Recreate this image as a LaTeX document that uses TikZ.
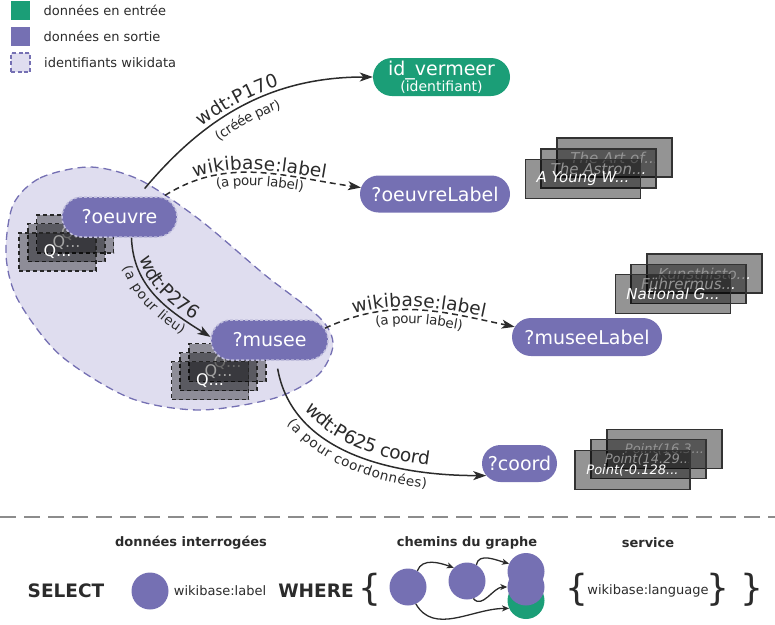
\documentclass[tikz,border=0pt]{standalone}
\usepackage{fontspec}
\setmainfont{DejaVu Sans}
\usetikzlibrary{positioning,arrows.meta,calc,shapes.misc,decorations.text}
\definecolor{entree}{HTML}{1B9E77}
\definecolor{sortie}{HTML}{7570B3}
\definecolor{wikiid}{HTML}{DFDDEF}
\definecolor{encre}{HTML}{2B2B2B}
\tikzset{
    x=1pt,
    y=1pt,
    >={Stealth[length=13pt,width=9pt,inset=3.5pt]},
    var/.style = {
        shape=rounded rectangle,
        fill=sortie,
        text=white,
        font=\fontsize{19}{21}\selectfont,
        minimum height=38pt,
        inner sep=0pt
    },
    idvar/.style = {
        var,
        draw=sortie!45!white,
        dash pattern=on 3pt off 2pt,
        line width=1.5pt,
        minimum height=40pt
    },
    qbox/.style = {
        draw=black!85,
        dash pattern=on 4pt off 3pt,
        line width=1.3pt,
        fill=black,
        fill opacity=0.36,
        text opacity=1,
        text=white,
        minimum width=77pt,
        minimum height=38pt,
        font=\fontsize{16}{16}\selectfont
    },
    valbox/.style = {
        draw=black!80,
        line width=1.3pt,
        fill=black,
        fill opacity=0.42,
        text opacity=1,
        text=white,
        minimum width=115pt,
        minimum height=39pt,
        font=\itshape\fontsize{15}{15}\selectfont
    },
    lien/.style = {draw=encre, line width=1.5pt},
    lienlabel/.style = {lien, dash pattern=on 6pt off 4pt},
    prop/.style 2 args = {postaction={decorate, decoration={text along path,
        text align=center, text color=encre, raise=#1,
        text={|\fontsize{18.5}{18.5}\selectfont|#2}}}},
    sens/.style 2 args = {postaction={decorate, decoration={text along path,
        text align=center, text color=encre, raise=#1,
        text={|\fontsize{13.5}{13.5}\selectfont|#2}}}},
    legende/.style = {anchor=west, text=encre, font=\fontsize{13}{13}\selectfont},
    carre/.style = {minimum size=19pt, inner sep=0pt},
    titre/.style = {text=encre, font=\bfseries\fontsize{13}{13}\selectfont},
    motcle/.style = {text=encre, font=\bfseries\fontsize{18.5}{18.5}\selectfont},
    rond/.style = {circle, fill=sortie, minimum size=37pt, inner sep=0pt},
    petit/.style = {draw=encre, line width=1.3pt, -{Stealth[length=7pt,width=6pt,inset=2pt]}},
    accolade/.style = {text=encre, inner sep=0pt, font=\fontsize{36}{36}\selectfont}
}

\begin{document}
\begin{tikzpicture}
    \useasboundingbox (0,0) rectangle (775,-624);

    % legende
    \node[carre, fill=entree] (lentree) at (20.5,-10) {};
    \node[carre, fill=sortie] (lsortie) at (20.5,-36) {};
    \node[carre, fill=wikiid, draw=sortie, dash pattern=on 4pt off 2.5pt, line width=1.3pt] (lwiki) at (20.5,-62.5) {};
    \node[legende, right=10pt of lentree] (tentree) {données en entrée};
    \node[legende, right=10pt of lsortie] (tsortie) {données en sortie};
    \node[legende, right=10pt of lwiki] (twiki) {identifiants wikidata};

    % zone des identifiants
    \path[draw=sortie, fill=wikiid, line width=1.3pt, dash pattern=on 8pt off 5pt]
        plot[smooth cycle] coordinates {(13,-205) (40,-178) (90,-167) (140,-180)
        (200,-220) (265,-275) (320,-318) (333,-345) (318,-375) (275,-398)
        (200,-410) (130,-398) (60,-355) (18,-300) (6,-255)};

    \node[qbox] (oq1) at (75,-234) {Q...};
    \node[qbox] (oq2) at (66.5,-242.5) {Q...};
    \node[qbox] (oq3) at (57.5,-252) {Q...};
    \node[qbox] (mq1) at (227.5,-362.5) {Q...};
    \node[qbox] (mq2) at (218.5,-371.5) {Q...};
    \node[qbox] (mq3) at (210,-380.5) {Q...};

    % variables
    \node[var, fill=entree, minimum width=137pt, align=center] (vermeer) at (441.5,-77)
        {id\_vermeer\\[-5pt]{\fontsize{14}{14}\selectfont (identifiant)}};
    \node[var, minimum width=150pt, minimum height=37pt] (oeuvrelabel) at (435,-194) {?oeuvreLabel};
    \node[idvar, minimum width=115pt] (oeuvre) at (119.5,-217) {?oeuvre};
    \node[idvar, minimum width=117pt] (musee) at (269.5,-340) {?musee};
    \node[var, minimum width=150pt] (museelabel) at (587,-337) {?museeLabel};
    \node[var, minimum width=75pt, minimum height=37pt] (coord) at (519.5,-463.5) {?coord};

    % valeurs
    \node[valbox] (ol1) at (614.5,-157.5) {The Art of...};
    \node[valbox] (ol2) at (598.5,-168.5) {The Astron...};
    \node[valbox] (ol3) at (583,-179) {A Young W...};
    \node[valbox] (ml1) at (704.5,-273.5) {Kunsthisto...};
    \node[valbox] (ml2) at (688.5,-284) {Führermus...};
    \node[valbox] (ml3) at (673,-294) {National G...};
    \node[valbox, font=\itshape\fontsize{13}{13}\selectfont] (cl1) at (664.5,-449) {Point(16.3...};
    \node[valbox, font=\itshape\fontsize{13}{13}\selectfont] (cl2) at (648.5,-459) {Point(14.29...};
    \node[valbox, font=\itshape\fontsize{13}{13}\selectfont] (cl3) at (632.5,-470) {Point(-0.128...};

    % proprietes
    \path[lien, ->, shorten <=10pt, prop={5pt}{wdt:P170}, sens={-17pt}{(créée par)}]
        (oeuvre.48) to[out=50,in=180] (vermeer.west);
    \path[lienlabel, ->, shorten <=3pt, prop={3pt}{wikibase:label}, sens={-13pt}{(a pour label)}]
        (oeuvre.25) to[out=32,in=172] (oeuvrelabel.175);
    \path[lien, ->, prop={5pt}{wdt:P276}, sens={-14pt}{(a pour lieu)}]
        (oeuvre.-60) to[out=-88,in=148] (musee.177);
    \path[lienlabel, ->, prop={3pt}{wikibase:label}, sens={-14pt}{(a pour label)}]
        (musee.12) to[out=25,in=168] (museelabel.172);
    \path[lien, ->, shorten <=8pt, prop={7pt}{wdt:P625 coord}, sens={-16pt}{(a pour coordonnées)}]
        (musee.-72) to[out=-80,in=180] (coord.200);

    % separation
    \path[draw=black!45, line width=2pt, dash pattern=on 16pt off 8pt] (0,-517) -- (775,-517);

    % requete
    \node[motcle] (select) at (66,-591) {SELECT};
    \node[titre] (interro) at (191,-543) {données interrogées};
    \node[rond] (sel) at (150,-591) {};
    \node[text=encre, font=\fontsize{13}{13}\selectfont] (sellabel) at (220,-591) {wikibase:label};
    \node[motcle] (where) at (316,-591) {WHERE};
    \node[accolade] (ouvre) at (370,-590) {\{};
    \node[titre] (chemins) at (467,-543) {chemins du graphe};
    \node[rond] (c1) at (408,-587) {};
    \node[rond] (c2) at (467,-581) {};
    \node[rond, fill=entree] (cvert) at (526,-600.5) {};
    \node[rond] (cmid) at (526,-587) {};
    \node[rond] (ctop) at (526,-571.5) {};
    \path[petit] (c1.60) to[out=70,in=160] (c2.135);
    \path[petit] (c2.60) to[out=80,in=165] (ctop.155);
    \path[petit] (c2.-70) to[out=-50,in=180] (cmid.180);
    \path[petit] (c1.-65) to[out=-60,in=180] (cvert.205);
    \node[titre] (service) at (648,-543) {service};
    \node[accolade] (ouvre2) at (577,-590) {\{};
    \node[text=encre, font=\fontsize{13}{13}\selectfont] (langue) at (648,-591) {wikibase:language};
    \node[accolade] (ferme2) at (718,-590) {\}};
    \node[accolade] (ferme) at (752,-590) {\}};
\end{tikzpicture}
\end{document}
